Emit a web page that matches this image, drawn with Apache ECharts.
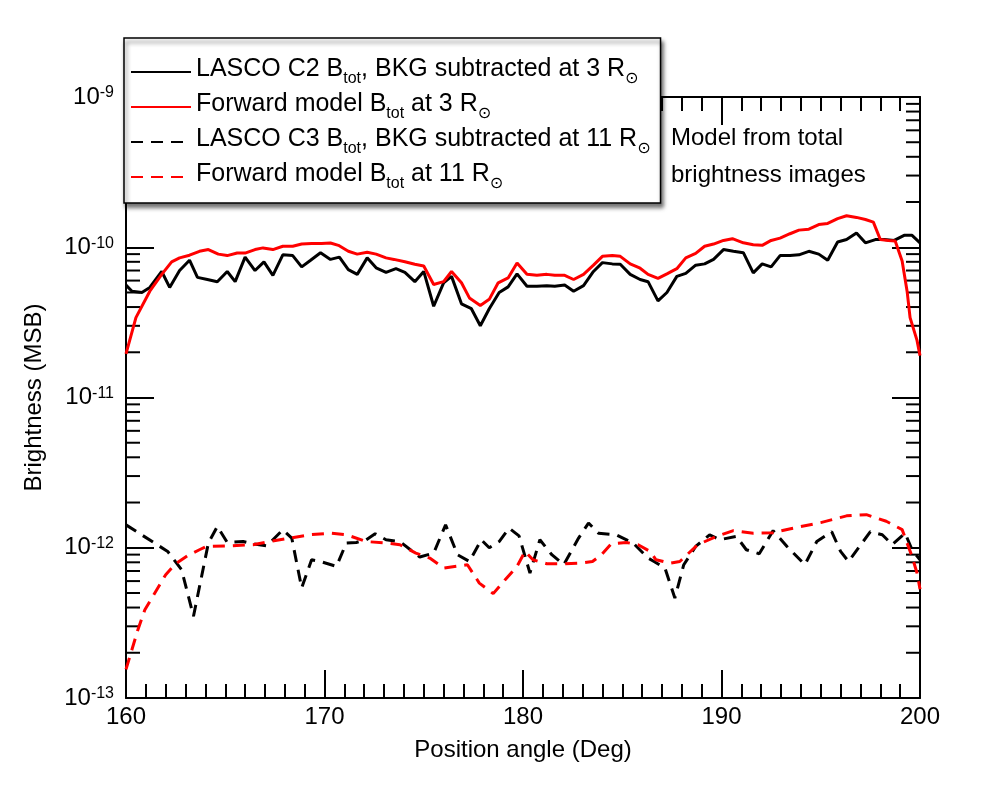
<!DOCTYPE html>
<html>
<head>
<meta charset="utf-8">
<script src="https://cdn.jsdelivr.net/npm/echarts@6/dist/echarts.min.js"></script>
<style>
  html, body { margin: 0; padding: 0; background: #fff; }
  #chart { width: 1000px; height: 800px; }
</style>
</head>
<body>
<div id="chart"></div>
<script>
// LASCO C2, 3 Rsun (black solid)
var c2Angle = [160.0, 160.3, 160.8, 161.2, 161.8, 162.2, 162.7, 163.2, 163.6, 164.1, 164.6, 165.1, 165.5, 166.0, 166.5, 166.95, 167.4, 167.9, 168.4, 168.85,
  169.3, 169.8, 170.3, 170.75, 171.2, 171.65, 172.15, 172.6, 173.1, 173.6, 174.05, 174.55, 175.0, 175.5, 176.0, 176.4, 176.9, 177.4, 177.85, 178.3,
  178.8, 179.25, 179.7, 180.2, 180.7, 181.2, 181.6, 182.1, 182.55, 183.05, 183.55, 184.0, 184.5, 184.9, 185.4, 185.9, 186.3, 186.8, 187.25, 187.75,
  188.2, 188.7, 189.15, 189.6, 190.1, 190.6, 191.1, 191.6, 192.05, 192.5, 192.95, 193.45, 193.9, 194.4, 194.9, 195.35, 195.85, 196.3, 196.8, 197.25,
  197.75, 198.2, 198.7, 199.2, 199.6, 200.0];
var c2Val = [5.6e-11, 5.1e-11, 5.0e-11, 5.4e-11, 6.9e-11, 5.4e-11, 7.0e-11, 8.2e-11, 6.3e-11, 6.1e-11, 5.9e-11, 6.9e-11, 5.9e-11, 8.6e-11, 7.0e-11, 8.0e-11, 6.5e-11, 8.9e-11, 8.8e-11, 7.4e-11,
  8.2e-11, 9.2e-11, 8.3e-11, 8.6e-11, 7.1e-11, 6.6e-11, 8.5e-11, 7.3e-11, 6.8e-11, 7.2e-11, 6.8e-11, 5.9e-11, 6.9e-11, 4.05e-11, 5.8e-11, 6.4e-11, 4.2e-11, 3.9e-11, 3.0e-11, 3.9e-11,
  5.0e-11, 5.45e-11, 6.65e-11, 5.5e-11, 5.5e-11, 5.55e-11, 5.5e-11, 5.6e-11, 5.1e-11, 5.55e-11, 6.9e-11, 7.9e-11, 7.75e-11, 7.7e-11, 6.6e-11, 6.1e-11, 5.9e-11, 4.4e-11, 5.0e-11, 6.4e-11,
  6.7e-11, 7.6e-11, 7.75e-11, 8.3e-11, 9.65e-11, 9.4e-11, 9.2e-11, 6.75e-11, 7.75e-11, 7.4e-11, 8.8e-11, 8.8e-11, 8.9e-11, 9.4e-11, 9.0e-11, 8.2e-11, 1.085e-10, 1.125e-10, 1.245e-10, 1.07e-10,
  1.125e-10, 1.125e-10, 1.11e-10, 1.2e-10, 1.2e-10, 1.07e-10];

// Forward model, 3 Rsun (red solid)
var fm3Angle = [160.0, 160.5, 161.2, 161.8, 162.3, 162.7, 163.2, 163.7, 164.15, 164.65, 165.1, 165.6, 166.0, 166.5, 166.9, 167.4, 167.9, 168.4, 168.85, 169.35,
  169.85, 170.3, 170.7, 171.2, 171.65, 172.15, 172.6, 173.1, 173.5, 174.05, 174.55, 175.0, 175.5, 176.0, 176.4, 176.9, 177.3, 177.85, 178.3, 178.75,
  179.25, 179.7, 180.2, 180.7, 181.2, 181.6, 182.1, 182.55, 183.05, 183.55, 184.0, 184.5, 184.9, 185.4, 185.9, 186.3, 186.8, 187.25, 187.75, 188.2,
  188.7, 189.15, 189.6, 190.1, 190.55, 191.1, 191.6, 192.05, 192.5, 192.95, 193.45, 193.9, 194.4, 194.9, 195.35, 195.85, 196.3, 196.8, 197.25, 197.65,
  198.0, 198.4, 198.75, 199.1, 199.35, 199.5, 199.85, 200.0];
var fm3Val = [1.95e-11, 3.4e-11, 5.1e-11, 6.6e-11, 8.0e-11, 8.5e-11, 8.85e-11, 9.4e-11, 9.65e-11, 9.0e-11, 8.8e-11, 9.15e-11, 9.15e-11, 9.65e-11, 9.9e-11, 9.65e-11, 1.015e-10, 1.015e-10, 1.05e-10, 1.058e-10,
  1.058e-10, 1.068e-10, 1.03e-10, 9.4e-11, 9.0e-11, 9.25e-11, 9.0e-11, 8.5e-11, 8.3e-11, 8.0e-11, 7.7e-11, 7.5e-11, 5.65e-11, 5.9e-11, 6.9e-11, 5.8e-11, 4.6e-11, 4.1e-11, 4.5e-11, 5.8e-11,
  6.25e-11, 7.85e-11, 6.6e-11, 6.5e-11, 6.6e-11, 6.5e-11, 6.5e-11, 6.1e-11, 6.6e-11, 7.6e-11, 8.7e-11, 8.8e-11, 8.7e-11, 7.75e-11, 7.25e-11, 6.6e-11, 6.2e-11, 6.65e-11, 7.2e-11, 8.5e-11,
  9.1e-11, 1.015e-10, 1.05e-10, 1.11e-10, 1.14e-10, 1.07e-10, 1.04e-10, 1.03e-10, 1.11e-10, 1.15e-10, 1.23e-10, 1.3e-10, 1.32e-10, 1.415e-10, 1.44e-10, 1.55e-10, 1.62e-10, 1.58e-10, 1.53e-10, 1.47e-10,
  1.125e-10, 1.11e-10, 1.1e-10, 8.1e-11, 5.1e-11, 3.4e-11, 2.4e-11, 1.9e-11];

// LASCO C3, 11 Rsun (black dashed)
var c3Angle = [160.0, 162.1, 162.8, 163.4, 164.15, 164.6, 165.1, 165.9, 166.4, 167.1, 167.9, 168.35, 168.85, 169.35, 169.8, 170.6, 171.1, 171.6, 172.1, 172.55,
  173.1, 173.8, 174.8, 175.5, 176.1, 176.7, 177.3, 177.9, 178.3, 178.8, 179.3, 179.8, 180.35, 180.85, 181.45, 182.05, 182.8, 183.3, 183.8, 184.7,
  185.55, 186.3, 186.6, 187.15, 187.65, 188.1, 188.7, 189.4, 189.9, 190.75, 191.25, 191.9, 192.6, 193.3, 194.2, 194.8, 195.55, 196.0, 196.4, 197.5,
  198.1, 198.6, 199.25, 199.6, 200.0];
var c3Val = [1.42e-12, 9.45e-13, 7.14e-13, 3.5e-13, 1.075e-12, 1.386e-12, 1.085e-12, 1.1e-12, 1.063e-12, 1.03e-12, 1.317e-12, 1.16e-12, 5.4e-13, 8.32e-13, 8.1e-13, 7.51e-13, 1.075e-12, 1.085e-12, 1.13e-12, 1.24e-12,
  1.13e-12, 1.1e-12, 8.67e-13, 9.22e-13, 1.42e-12, 8.99e-13, 8.1e-13, 1.13e-12, 1.0e-12, 1.1e-12, 1.35e-12, 1.2e-12, 6.79e-13, 1.13e-12, 8.99e-13, 7.71e-13, 1.16e-12, 1.46e-12, 1.25e-12, 1.22e-12,
  1.075e-12, 8.54e-13, 8.1e-13, 7.33e-13, 4.63e-13, 7.71e-13, 1.02e-12, 1.22e-12, 1.13e-12, 1.19e-12, 9.7e-13, 9.12e-13, 1.3e-12, 1.02e-12, 7.71e-13, 1.1e-12, 1.28e-12, 9.45e-13, 8.1e-13, 1.28e-12,
  1.22e-12, 1.05e-12, 1.25e-12, 9.7e-13, 8.3e-13];

// Forward model, 11 Rsun (red dashed)
var fm11Angle = [160.0, 160.6, 160.95, 161.4, 162.0, 162.5, 163.1, 163.7, 164.05, 165.2, 166.4, 167.25, 168.25, 169.25, 170.3, 171.1, 172.1, 173.1, 173.8, 174.6,
  175.3, 176.0, 177.2, 177.8, 178.5, 179.1, 179.7, 180.1, 180.5, 181.2, 182.1, 182.85, 183.5, 183.95, 184.45, 185.2, 185.8, 186.4, 186.7, 187.4,
  187.9, 188.8, 189.75, 190.6, 191.6, 192.6, 193.6, 195.0, 196.3, 197.3, 198.3, 199.1, 199.6, 199.85, 200.0];
var fm11Val = [1.55e-13, 2.85e-13, 3.87e-13, 4.87e-13, 6.62e-13, 7.83e-13, 8.85e-13, 9.7e-13, 1.02e-12, 1.03e-12, 1.047e-12, 1.1e-12, 1.16e-12, 1.22e-12, 1.25e-12, 1.22e-12, 1.1e-12, 1.075e-12, 1.047e-12, 9.22e-13,
  8.54e-13, 7.33e-13, 7.71e-13, 5.82e-13, 4.95e-13, 6.13e-13, 7.51e-13, 9.45e-13, 8.32e-13, 7.83e-13, 7.83e-13, 7.9e-13, 8.1e-13, 8.99e-13, 1.063e-12, 1.085e-12, 1.047e-12, 9.45e-13, 8.32e-13, 7.9e-13,
  8.1e-13, 1.047e-12, 1.19e-12, 1.3e-12, 1.25e-12, 1.26e-12, 1.35e-12, 1.47e-12, 1.63e-12, 1.66e-12, 1.5e-12, 1.32e-12, 8.75e-13, 6.79e-13, 5.3e-13];

// axis ticks
var decades = [-13, -12, -11, -10];
var minorMantissa = [2, 3, 4, 5, 6, 7, 8, 9];

var FONT = '"Liberation Sans", "DejaVu Sans", sans-serif';

function pairs(a, v) {
  return a.map(function (x, i) { return [x, v[i]]; });
}

var minorTicks = [];
decades.forEach(function (d) {
  minorMantissa.forEach(function (m) { minorTicks.push([160, m * Math.pow(10, d)]); });
});

var legendText = {
  c2: '{n|LASCO C2 B}{sub|tot}{n|, BKG subtracted at 3 R}{sub|⊙}',
  fm3: '{n|Forward model B}{sub|tot}{n| at 3 R}{sub|⊙}',
  c3: '{n|LASCO C3 B}{sub|tot}{n|, BKG subtracted at 11 R}{sub|⊙}',
  fm11: '{n|Forward model B}{sub|tot}{n| at 11 R}{sub|⊙}'
};

var chart = echarts.init(document.getElementById('chart'));

var option = {
  backgroundColor: '#fff',
  animation: false,
  grid: { left: 126, right: 80, top: 97, bottom: 102 },
  legend: {
    data: ['c2', 'fm3', 'c3', 'fm11'],
    orient: 'vertical',
    left: 124,
    top: 38,
    padding: [19, 10, 11, 6],
    itemGap: 5,
    itemWidth: 60,
    itemHeight: 14,
    backgroundColor: '#fff',
    borderColor: '#000',
    borderWidth: 1.5,
    shadowColor: 'rgba(0,0,0,0.55)',
    shadowBlur: 4,
    shadowOffsetX: 2,
    shadowOffsetY: 4,
    selectedMode: false,
    itemStyle: { color: 'rgba(0,0,0,0)', borderColor: 'rgba(0,0,0,0)', borderWidth: 0 },
    formatter: function (name) { return legendText[name]; },
    textStyle: {
      color: '#000',
      fontFamily: FONT,
      rich: {
        n: { fontSize: 25, fontFamily: FONT, color: '#000', verticalAlign: 'bottom', padding: [0, 0, 5, 0] },
        sub: { fontSize: 16, fontFamily: FONT, color: '#000', verticalAlign: 'bottom' }
      }
    }
  },
  graphic: [{
    type: 'text',
    left: 671,
    top: 120,
    z: 10,
    style: {
      text: 'Model from total\nbrightness images',
      fontSize: 24,
      fontFamily: FONT,
      lineHeight: 37,
      fill: '#000'
    }
  }],
  xAxis: [{
    type: 'value',
    min: 160,
    max: 200,
    interval: 10,
    name: 'Position angle (Deg)',
    nameLocation: 'middle',
    nameGap: 40,
    nameTextStyle: { fontSize: 24, fontFamily: FONT, color: '#000' },
    axisLine: { show: true, onZero: false, lineStyle: { color: '#000', width: 2 } },
    axisTick: { show: true, inside: true, length: 28, lineStyle: { color: '#000', width: 2 } },
    minorTick: { show: true, splitNumber: 10, length: 14, lineStyle: { color: '#000', width: 2 } },
    axisLabel: { fontSize: 24, fontFamily: FONT, color: '#000', margin: 7 },
    splitLine: { show: false }
  }, {
    type: 'value',
    position: 'top',
    min: 160,
    max: 200,
    interval: 10,
    axisLine: { show: true, onZero: false, lineStyle: { color: '#000', width: 2 } },
    axisTick: { show: true, inside: true, length: 28, lineStyle: { color: '#000', width: 2 } },
    minorTick: { show: true, splitNumber: 10, length: 14, lineStyle: { color: '#000', width: 2 } },
    axisLabel: { show: false },
    splitLine: { show: false }
  }],
  yAxis: [{
    type: 'log',
    min: 1e-13,
    max: 1e-9,
    splitNumber: 4,
    name: 'Brightness (MSB)',
    nameLocation: 'middle',
    nameRotate: 90,
    nameGap: 80,
    nameTextStyle: { fontSize: 24, fontFamily: FONT, color: '#000' },
    axisLine: { show: true, onZero: false, lineStyle: { color: '#000', width: 2 } },
    axisTick: { show: true, inside: true, length: 28, lineStyle: { color: '#000', width: 2 } },
    axisLabel: {
      margin: 12,
      formatter: function (v) {
        var e = Math.round(Math.log10(v));
        return '{b|10}{s|' + e + '}';
      },
      rich: {
        b: { fontSize: 24, fontFamily: FONT, color: '#000', verticalAlign: 'bottom' },
        s: { fontSize: 16, fontFamily: FONT, color: '#000', verticalAlign: 'top' }
      }
    },
    splitLine: { show: false }
  }, {
    type: 'log',
    position: 'right',
    min: 1e-13,
    max: 1e-9,
    splitNumber: 4,
    axisLine: { show: true, onZero: false, lineStyle: { color: '#000', width: 2 } },
    axisTick: { show: true, inside: true, length: 28, lineStyle: { color: '#000', width: 2 } },
    axisLabel: { show: false },
    splitLine: { show: false }
  }],
  series: [{
    name: 'c2',
    type: 'line',
    data: pairs(c2Angle, c2Val),
    symbol: 'none',
    lineStyle: { color: '#000', width: 3 },
    itemStyle: { color: '#000' },
    z: 3
  }, {
    name: 'fm3',
    type: 'line',
    data: pairs(fm3Angle, fm3Val),
    symbol: 'none',
    lineStyle: { color: '#ff0000', width: 3 },
    itemStyle: { color: '#ff0000' },
    z: 4
  }, {
    name: 'c3',
    type: 'line',
    data: pairs(c3Angle, c3Val),
    symbol: 'none',
    lineStyle: { color: '#000', width: 3, type: [12, 8] },
    itemStyle: { color: '#000' },
    z: 3
  }, {
    name: 'fm11',
    type: 'line',
    data: pairs(fm11Angle, fm11Val),
    symbol: 'none',
    lineStyle: { color: '#ff0000', width: 3, type: [12, 8] },
    itemStyle: { color: '#ff0000' },
    z: 4
  }, {
    // log minor ticks on left and right frame
    name: 'minorTicks',
    type: 'custom',
    silent: true,
    data: minorTicks,
    renderItem: function (params, api) {
      var cs = params.coordSys;
      var y = api.coord([160, api.value(1)])[1];
      var st = { stroke: '#000', lineWidth: 2 };
      return {
        type: 'group',
        children: [
          { type: 'line', shape: { x1: cs.x, y1: y, x2: cs.x + 14, y2: y }, style: st },
          { type: 'line', shape: { x1: cs.x + cs.width - 14, y1: y, x2: cs.x + cs.width, y2: y }, style: st }
        ]
      };
    },
    z: 1
  }]
};

chart.setOption(option);
</script>
</body>
</html>
